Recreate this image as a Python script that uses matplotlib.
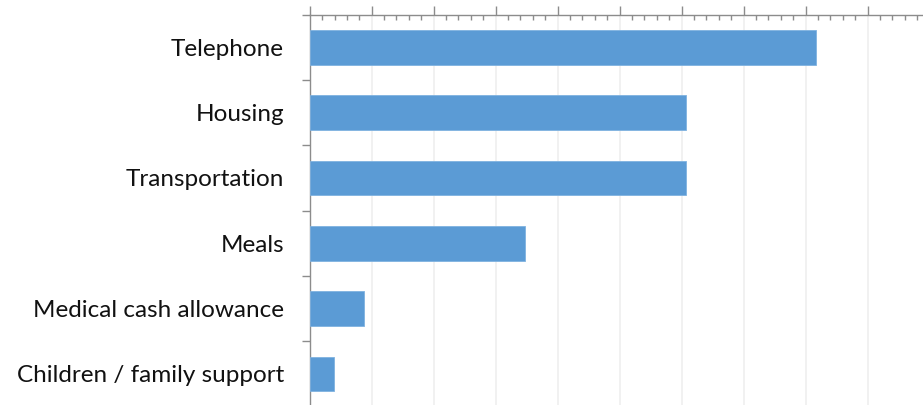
import matplotlib.pyplot as plt
from matplotlib.ticker import MultipleLocator, FixedLocator, NullFormatter

# categories top to bottom and their values
categories = ["Telephone", "Housing", "Transportation", "Meals",
              "Medical cash allowance", "Children / family support"]
values = [81.7, 60.7, 60.7, 34.8, 8.8, 3.9]

BAR_COLOR = "#5B9BD5"
AXIS_COLOR = "#8C8C8C"
GRID_COLOR = "#EEEEEE"

plt.rcParams['font.family'] = ['Lato', 'DejaVu Sans']

fig = plt.figure(figsize=(9.23, 4.05), dpi=100)
# axes run slightly past the figure edge on the right and bottom
ax = fig.add_axes([309.7 / 923, -1.5 / 405, 620 / 923, 391.8 / 405])

pos = list(range(len(categories)))
ax.barh(pos, values, height=0.53, color=BAR_COLOR, edgecolor="#7FB2E0",
        linewidth=0.6, zorder=3)

ax.set_xlim(0, 100)
ax.set_ylim(len(categories) - 0.5, -0.5)

# value axis on top, no labels
ax.xaxis.tick_top()
ax.xaxis.set_major_locator(MultipleLocator(10))
ax.xaxis.set_minor_locator(MultipleLocator(2))
ax.xaxis.set_major_formatter(NullFormatter())
ax.tick_params(axis='x', which='major', direction='out', length=6.5,
               width=1.0, color=AXIS_COLOR, top=True, bottom=False)
ax.tick_params(axis='x', which='minor', direction='in', length=3.6,
               width=1.0, color=AXIS_COLOR, top=True, bottom=False)
ax.grid(axis='x', which='major', color=GRID_COLOR, linewidth=1.1, zorder=0)

# category labels centred, tick marks at category boundaries
ax.set_yticks(pos)
ax.set_yticklabels(categories, fontsize=17.5, color="#111111")
ax.tick_params(axis='y', which='major', length=0, pad=18.5)
ax.yaxis.set_minor_locator(FixedLocator([p + 0.5 for p in range(-1, len(categories))]))
ax.tick_params(axis='y', which='minor', direction='out', length=6,
               width=1.0, color=AXIS_COLOR)

for side in ("right", "bottom"):
    ax.spines[side].set_visible(False)
for side in ("left", "top"):
    ax.spines[side].set_color(AXIS_COLOR)
    ax.spines[side].set_linewidth(1.0)

ax.set_axisbelow(True)
fig.savefig("out.png", dpi=100)
